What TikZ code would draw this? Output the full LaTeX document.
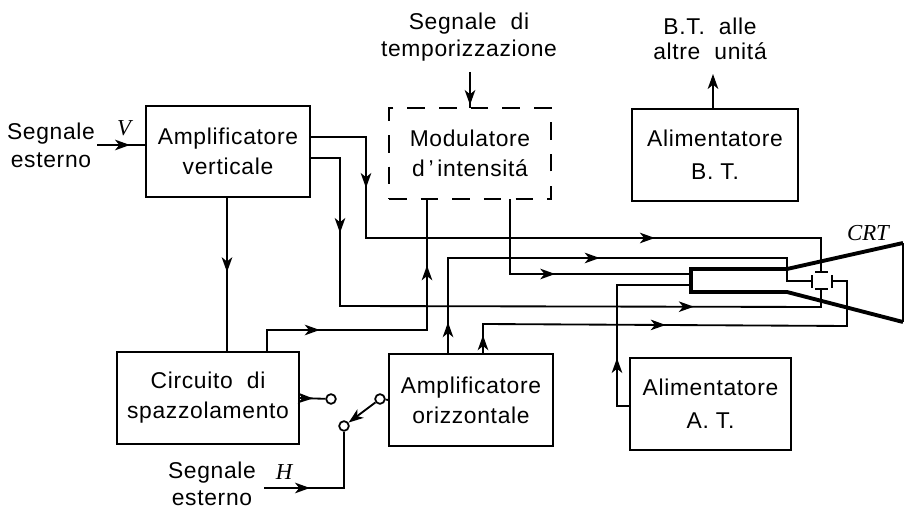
\documentclass[tikz,border=0pt]{standalone}
\usepackage{fontspec}
\setmainfont[LetterSpace=3]{Liberation Sans}
\newfontfamily\italfont[Ligatures=TeX]{Liberation Serif}
\usetikzlibrary{arrows.meta,decorations.markings}
\tikzset{
    blockbox/.style={draw, line width=1pt, minimum height=1.83cm, inner sep=0pt, outer sep=0pt, align=center},
    dashbox/.style={blockbox, dash pattern=on 10pt off 8pt},
    plain/.style={align=center, inner sep=0pt},
    ital/.style={inner sep=0pt, font=\fontsize{13}{15}\selectfont\italfont\itshape},
    contact/.style={circle, draw, line width=1pt, fill=white, inner sep=0pt, minimum size=5.5pt},
    sig/.style={line width=1.05pt},
    tipat/.style={postaction={decorate, decoration={markings, mark=at position #1*0.569pt with {\arrow{Stealth[length=8.5pt,width=6pt,inset=2.4pt]}}}}},
    endtip/.style={-{Stealth[length=8.5pt,width=6pt,inset=2.4pt]}}
}

\begin{document}
\begin{tikzpicture}[x=0.02cm, y=-0.02cm, font=\fontsize{13}{17}\selectfont]
        \useasboundingbox (0,0) rectangle (904,509);
        % blocks
        \draw (228,151.5) node[blockbox, minimum width=3.28cm](ampv) {Amplificatore\\verticale};
        \draw (470,153.5) node[dashbox, minimum width=3.24cm](mod) {Modulatore\\d\,'\,intensitá};
        \draw (715,155) node[blockbox, minimum width=3.32cm](albt) {Alimentatore\\[2pt]B. T.};
        \draw (208,398) node[blockbox, minimum width=3.64cm](circ) {Circuito\ \ di\\spazzolamento};
        \draw (471,400) node[blockbox, minimum width=3.28cm](ampo) {Amplificatore\\orizzontale};
        \draw (710.5,404) node[blockbox, minimum width=3.22cm](alat) {Alimentatore\\[2pt]A. T.};
        % texts
        \draw (51,145) node[plain](extv) {Segnale\\[-1pt]esterno};
        \draw (212,484) node[plain](exth) {Segnale\\[-1.5pt]esterno};
        \draw (469,37) node[plain](temp) {Segnale\ \ di\\[-1.5pt]temporizzazione};
        \draw (710,39) node[plain](unit) {B.T.\ \ alle\\[-2.5pt]altre\ \ unitá};
        \draw (124,128) node[ital](labv) {V};
        \draw (284,472) node[ital](labh) {H};
        \draw (868,233) node[ital](crt) {CRT};
        % switch
        \draw (331,399) node[contact](sw1) {};
        \draw (380,399) node[contact](sw2) {};
        \draw (344,426) node[contact](sw3) {};
        % free ends
        \coordinate (inv) at (97,145);
        \coordinate (inh) at (264,488);
        \coordinate (intemp) at (470,72);
        \coordinate (outbt) at (713,74);
        \coordinate (tubea) at (691,274);
        \coordinate (tubeb) at (691,285);
        \coordinate (plt) at (821,272);
        \coordinate (plb) at (821,289);
        \coordinate (pll) at (812,281);
        \coordinate (plr) at (832,281);
        % tube
        \draw[line width=2.2pt] (903,243) -- (787,269) -- (691,269) -- (691,292) -- (787,292) -- (903,322);
        \draw[sig] (903,243) -- (903,322);
        \draw[sig] (815,272) -- (828,272);
        \draw[sig] (815,289) -- (828,289);
        \draw[sig] (812,275) -- (812,288);
        \draw[sig] (832,275) -- (832,288);
        % connectors
        \draw[sig, tipat=33] (inv) -- (ampv.west |- inv);
        \draw[sig, tipat=46] (inh) -- (344,488) -- (sw3);
        \draw[sig, tipat=33] (intemp) -- (mod.north -| intemp);
        \draw[sig, endtip] (albt.north -| outbt) -- (outbt);
        \draw[sig, tipat=75] (ampv.south -| 227,0) -- (circ.north -| 227,0);
        \draw[sig, tipat=107, tipat=446] (ampv.east |- 0,137) -- (366,137) -- (366,238) -- (821,238) -- (plt);
        \draw[sig, tipat=105, tipat=532] (ampv.east |- 0,158) -- (340,158) -- (340,306) -- (821,307) -- (plb);
        \draw[sig, tipat=75, tipat=247] (circ.north -| 267,0) -- (267,330) -- (427,330) -- (mod.south -| 427,0);
        \draw[sig, tipat=120] (mod.south -| 510,0) -- (510,274) -- (tubea);
        \draw[sig, tipat=32, tipat=248] (ampo.north -| 448,0) -- (448,258) -- (787,258) -- (787,281) -- (pll);
        \draw[sig, tipat=19, tipat=213] (ampo.north -| 483,0) -- (483,324) -- (847,326) -- (847,281) -- (plr);
        \draw[sig, tipat=61] (alat.west |- 0,406) -- (617,406) -- (617,285) -- (tubeb);
        \draw[sig, tipat=14] (circ.east) -- (sw1);
        \draw[sig] (ampo.west) -- (sw2);
        \draw[sig, endtip] (sw2) -- (sw3);
    \end{tikzpicture}
\end{document}
